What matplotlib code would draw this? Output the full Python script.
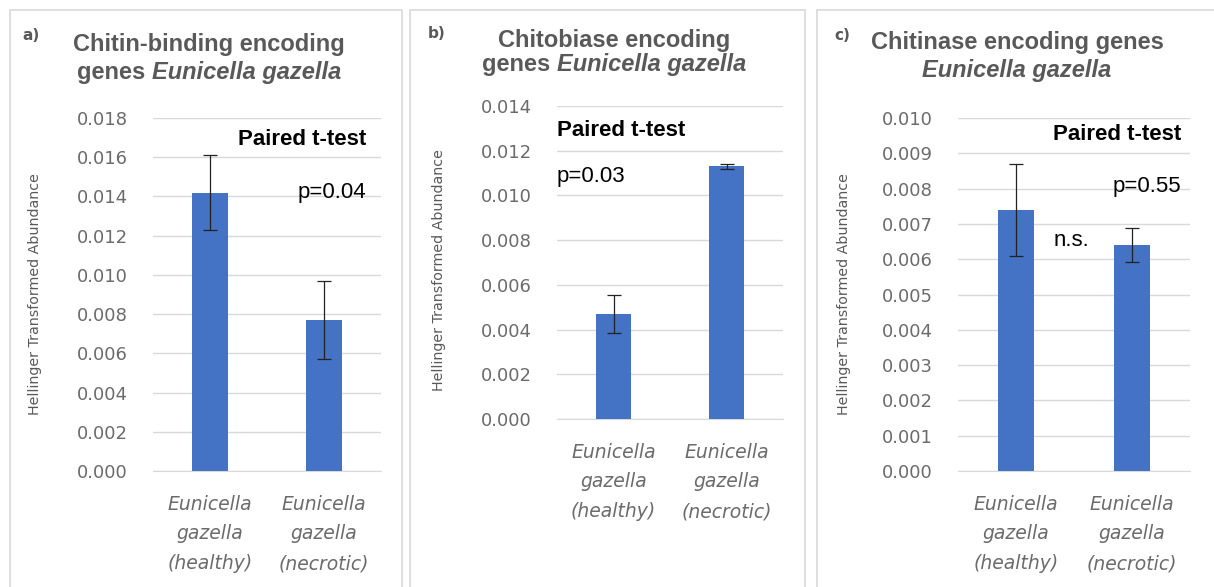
import numpy as np
import matplotlib
matplotlib.use("Agg")
import matplotlib.pyplot as plt
from matplotlib.patches import Rectangle

# data
groups = ["Eunicella\ngazella\n(healthy)", "Eunicella\ngazella\n(necrotic)"]

chitin_binding = [0.0142, 0.0077]
chitin_binding_err = [0.0019, 0.0020]

chitobiase = [0.0047, 0.0113]
chitobiase_err = [0.00085, 0.0001]

chitinase = [0.0074, 0.0064]
chitinase_err = [0.0013, 0.00048]

p_values = ["p=0.04", "p=0.03", "p=0.55"]
letters = ["a)", "b)", "c)"]
titles = [("Chitin-binding encoding", "genes ", "Eunicella gazella"),
          ("Chitobiase encoding", "genes ", "Eunicella gazella"),
          ("Chitinase encoding genes", "", "Eunicella gazella")]

BLUE = "#4472C4"
GREY = "#595959"
TICK = "#6b6b6b"
GRID = "#d9d9d9"

W, H = 1214, 587
fig = plt.figure(figsize=(W / 100, H / 100), dpi=100)
renderer = fig.canvas.get_renderer()


def fx(px):
    return px / W


def fy(py):
    return 1 - py / H


# panel frames (the last one runs off the right edge, as in the reference)
for x0, x1 in [(10, 402), (410, 805), (817, 1240)]:
    fig.patches.append(Rectangle((fx(x0), fy(600)), fx(x1 - x0), (600 - 10) / H,
                                 transform=fig.transFigure, fill=False,
                                 edgecolor=GRID, lw=1.2))

# axes boxes in pixels: left, right, top, bottom
boxes = [(153, 381, 118, 471), (557, 783, 106, 419), (958, 1190, 118, 471)]
series = [(chitin_binding, chitin_binding_err, 0.018, 0.002),
          (chitobiase, chitobiase_err, 0.014, 0.002),
          (chitinase, chitinase_err, 0.010, 0.001)]

axes = []
for (l, r, t, b), (vals, errs, ymax, step) in zip(boxes, series):
    ax = fig.add_axes([fx(l), fy(b), fx(r - l), (b - t) / H])
    x = np.arange(len(vals))
    ax.bar(x, vals, width=0.31, color=BLUE, zorder=3)
    ax.errorbar(x, vals, yerr=errs, fmt="none", ecolor="#222222", elinewidth=0.9,
                capsize=5, capthick=0.9, zorder=4)
    ax.set_xlim(-0.5, 1.5)
    ax.set_ylim(0, ymax)
    yt = np.arange(0, ymax + step / 2, step)
    ax.set_yticks(yt)
    ax.set_yticklabels([f"{v:.3f}" for v in yt])
    ax.set_xticks(x)
    ax.set_xticklabels(groups, fontstyle="italic", linespacing=1.72)
    ax.yaxis.grid(True, color=GRID, lw=1, zorder=0)
    for s in ["top", "right", "left"]:
        ax.spines[s].set_visible(False)
    ax.spines["bottom"].set_color(GRID)
    ax.tick_params(axis="both", length=0, colors=TICK)
    ax.tick_params(axis="y", pad=18, labelsize=13)
    ax.tick_params(axis="x", pad=17, labelsize=13.5)
    ax.set_ylabel("Hellinger Transformed Abundance", fontsize=10.3, color=GREY)
    axes.append(ax)

# y label positions to match reference columns
for ax, xp, yp in zip(axes, [42, 446, 851], [294, 270, 294]):
    ax.yaxis.set_label_coords(fx(xp), fy(yp), transform=fig.transFigure)

# panel letters
for lt, (px, py) in zip(letters, [(22, 36), (428, 34), (834, 36)]):
    fig.text(fx(px), fy(py), lt, fontsize=11, color=GREY, fontweight="bold",
             ha="left", va="center")

# titles
title_kw = dict(fontsize=17, color=GREY, fontweight="bold", family="Liberation Sans")


def two_part_line(cx, py, plain, italic):
    t1 = fig.text(fx(cx), fy(py), plain, ha="left", va="center", **title_kw)
    t2 = fig.text(fx(cx), fy(py), italic, ha="left", va="center", style="italic", **title_kw)
    w1 = t1.get_window_extent(renderer).width if plain else 0
    w2 = t2.get_window_extent(renderer).width
    x0 = cx - (w1 + w2) / 2
    t1.set_x(fx(x0))
    t2.set_x(fx(x0 + w1))


centres = [209, 614, 1017]
rows = [(45, 72), (40, 64), (43, 70)]
for (line1, plain, ital), cx, (y1, y2) in zip(titles, centres, rows):
    fig.text(fx(cx), fy(y1), line1, ha="center", va="center", **title_kw)
    two_part_line(cx, y2, plain, ital)

# annotations
ann = dict(fontsize=16, family="Liberation Sans", color="black")
a, b_, c = axes
a.text(0.934, 0.938, "Paired t-test", ha="right", va="center", fontweight="bold",
       transform=a.transAxes, **ann)
a.text(0.934, 0.79, p_values[0], ha="right", va="center", transform=a.transAxes, **ann)
b_.text(0.0, 0.923, "Paired t-test", ha="left", va="center", fontweight="bold",
        transform=b_.transAxes, **ann)
b_.text(0.0, 0.776, p_values[1], ha="left", va="center", transform=b_.transAxes, **ann)
c.text(0.961, 0.952, "Paired t-test", ha="right", va="center", fontweight="bold",
       transform=c.transAxes, **ann)
c.text(0.961, 0.807, p_values[2], ha="right", va="center", transform=c.transAxes, **ann)
c.text(0.487, 0.654, "n.s.", ha="center", va="center", transform=c.transAxes, **ann)

fig.savefig("out.png", dpi=100)
